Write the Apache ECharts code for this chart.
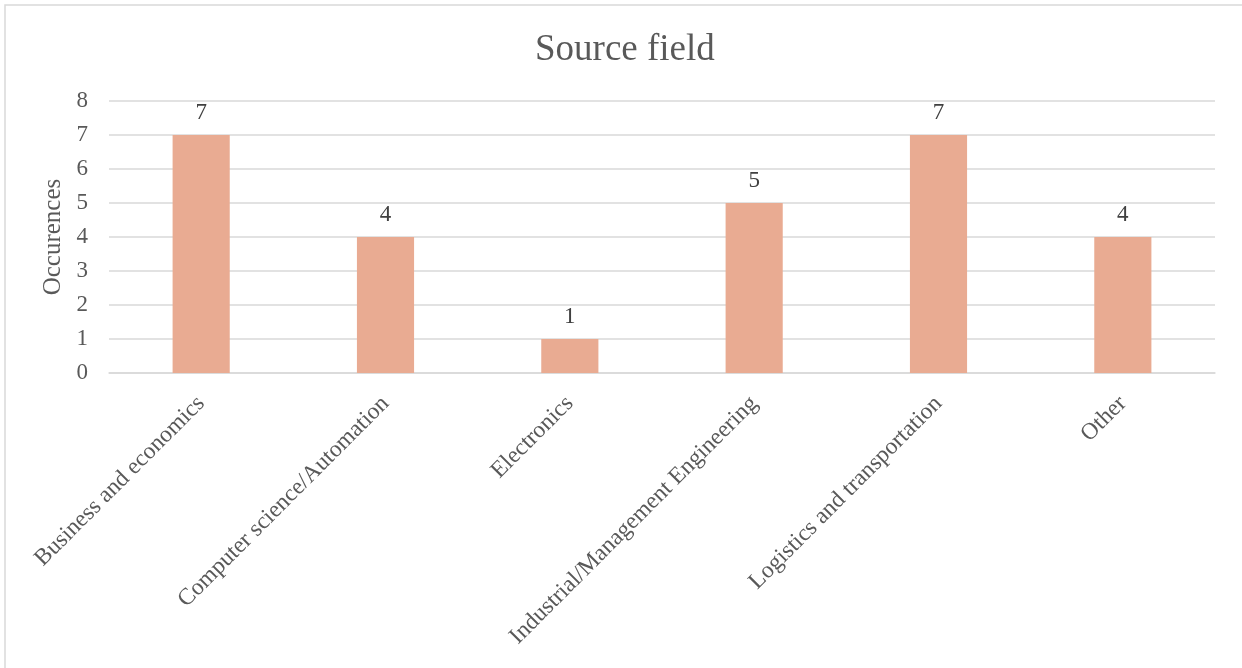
<!DOCTYPE html>
<html>
<head>
<meta charset="utf-8">
<script src="https://cdn.jsdelivr.net/npm/echarts@6/dist/echarts.min.js"></script>
<style>
  html, body { margin: 0; padding: 0; background: #fff; }
  #chart { width: 1242px; height: 668px; }
</style>
</head>
<body>
<div id="chart"></div>
<script>
// Source fields and how often each occurs
const categories = [
  'Business and economics',
  'Computer science/Automation',
  'Electronics',
  'Industrial/Management Engineering',
  'Logistics and transportation',
  'Other'
];
const occurrences = [7, 4, 1, 5, 7, 4];
const yTicks = [0, 1, 2, 3, 4, 5, 6, 7, 8];

const serif = '"Liberation Serif", "DejaVu Serif", serif';
const chart = echarts.init(document.getElementById('chart'));

chart.setOption({
  backgroundColor: '#fff',
  animation: false,
  graphic: [{
    type: 'rect',
    shape: { x: 5, y: 5, width: 1260, height: 700 },
    style: { fill: 'none', stroke: '#d9d9d9', lineWidth: 1.5 },
    silent: true
  }],
  title: {
    text: 'Source field',
    left: 530,
    top: 27,
    textStyle: { fontFamily: serif, fontSize: 37, fontWeight: 'normal', color: '#595959' }
  },
  grid: { left: 109, right: 27, top: 101, bottom: 295, containLabel: false },
  xAxis: {
    type: 'category',
    data: categories,
    axisLine: { lineStyle: { color: '#d9d9d9', width: 1.5 } },
    axisTick: { show: false },
    axisLabel: {
      rotate: 45,
      interval: 0,
      margin: 27,
      fontFamily: serif,
      fontSize: 23.5,
      color: '#595959'
    }
  },
  yAxis: {
    type: 'value',
    min: yTicks[0],
    max: yTicks[yTicks.length - 1],
    interval: 1,
    name: 'Occurences',
    nameLocation: 'middle',
    nameGap: 36,
    nameTextStyle: { fontFamily: serif, fontSize: 25, color: '#595959' },
    axisLine: { show: false },
    axisTick: { show: false },
    splitLine: { lineStyle: { color: '#d9d9d9', width: 1.5 } },
    axisLabel: {
      margin: 21,
      fontFamily: serif,
      fontSize: 23,
      color: '#595959',
      formatter: v => yTicks.includes(v) ? String(v) : ''
    }
  },
  series: [{
    type: 'bar',
    data: occurrences,
    barWidth: '31%',
    itemStyle: { color: '#E9AB92' },
    label: {
      show: true,
      position: 'top',
      distance: 11,
      fontFamily: serif,
      fontSize: 23,
      color: '#404040'
    }
  }]
});
</script>
</body>
</html>
